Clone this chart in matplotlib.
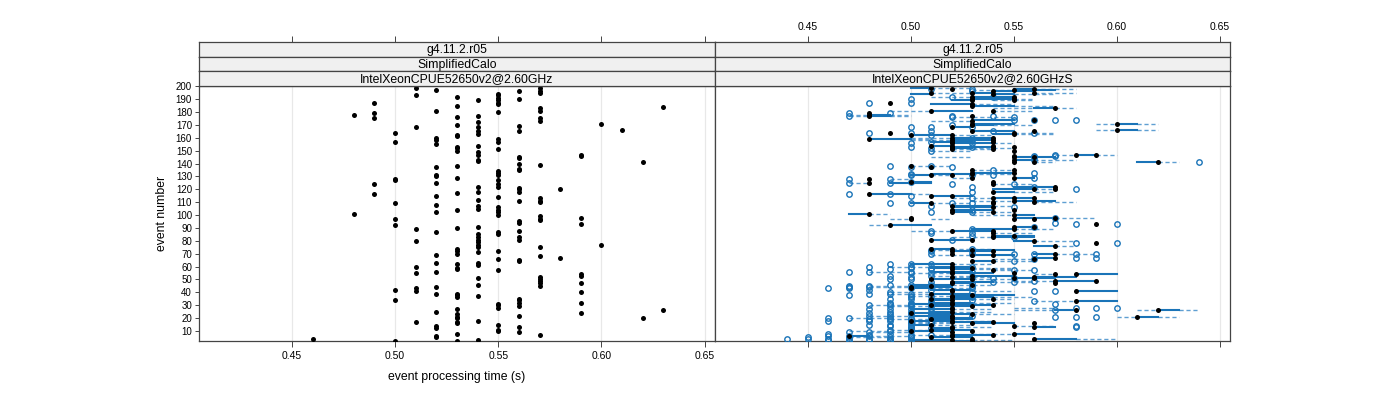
import matplotlib
matplotlib.use("Agg")
import matplotlib.pyplot as plt

plt.rcParams['font.family'] = ['Liberation Sans', 'DejaVu Sans']

# ---- left panel: one dot per event (time column -> event numbers)
left_time = [0.46, 0.48, 0.49, 0.50, 0.51, 0.52, 0.53, 0.54, 0.55, 0.56, 0.57,
             0.58, 0.59, 0.60, 0.61, 0.62, 0.63]
left_events = [
    [4],
    [178, 101],
    [187, 179, 175, 124, 116],
    [164, 157, 128, 127, 109, 97, 92, 42, 34, 2],
    [199, 193, 168, 89, 80, 60, 55, 43, 41, 17],
    [197, 181, 160, 158, 155, 137, 131, 130, 125, 115, 108, 102, 87, 69, 63, 56, 44, 39, 25, 14, 12, 6, 5],
    [192, 185, 176, 170, 162, 161, 153, 152, 150, 138, 129, 117, 104, 90, 74, 72, 70, 62, 59, 58, 39, 38, 36,
     27, 23, 21, 20, 17, 16, 8, 2],
    [189, 177, 172, 168, 165, 163, 154, 149, 147, 143, 142, 122, 118, 112, 107, 105, 91, 85, 83, 81, 79, 77,
     75, 71, 63, 61, 51, 46, 37, 18, 3],
    [194, 193, 191, 189, 187, 186, 180, 159, 157, 151, 134, 133, 131, 127, 124, 122, 114, 106, 104, 102, 100,
     87, 85, 72, 66, 57, 31, 30, 28, 15, 11, 10],
    [196, 190, 169, 165, 145, 144, 140, 136, 135, 121, 120, 118, 111, 95, 94, 88, 83, 81, 65, 64, 35, 34, 32,
     29, 22, 13, 9],
    [199, 196, 195, 183, 181, 175, 173, 139, 113, 111, 110, 99, 97, 96, 75, 68, 52, 50, 49, 47, 45, 7],
    [120, 67],
    [147, 146, 98, 93, 54, 53, 47, 40, 32, 24],
    [171, 77],
    [166],
    [141, 20],
    [184, 26],
]

# ---- right panel: per event row -> black dots, open circles, solid and dashed ranges
right_evt = [198, 197, 195, 194, 192, 190, 189, 187, 186, 183, 181, 179, 178, 177, 176, 174, 173, 171,
             168, 166, 165, 164, 162, 160, 159, 157, 156, 154, 153, 151, 150, 147, 146, 145, 141, 138,
             137, 135, 133, 131, 129, 128, 126, 125, 124, 122, 120, 116, 115, 113, 110, 109, 106, 104,
             102, 101, 100, 98, 97, 94, 93, 92, 91, 88, 86, 84, 81, 80, 78, 76, 74, 72, 70, 69, 67, 66,
             64, 62, 60, 58, 57, 56, 54, 53, 51, 49, 47, 45, 44, 43, 42, 41, 40, 38, 36, 34, 33, 31, 29,
             28, 27, 26, 25, 24, 22, 21, 20, 18, 16, 14, 12, 10, 9, 8, 6, 4, 3,
             59, 55, 52, 50, 48, 46, 39, 37, 35, 32, 30, 23, 19, 17, 15, 13, 11, 7, 5, 2,
             199, 196, 185, 170, 163, 158, 152, 143, 132, 118, 111, 107, 89, 83, 73]
right_black = [[.52, .56], [.55], [.51, .53, .56], [.54], [.53, .55], [.53, .55], [.53, .55], [.49], [.53],
               [.57], [.51, .54], [.48], [.48], [.48, .53], [], [.56], [.53], [.60, .53],
               [.52], [.60], [.53, .56], [.49, .55], [.50, .52], [.52, .54], [.48], [.52, .54], [.52],
               [.51, .52, .54], [.52, .54, .55], [.52, .54], [.55], [.58, .59], [.55], [.55, .56],
               [.62, .55, .56], [.50],
               [.51], [.53, .55], [.53, .55], [.51, .52], [.53, .55], [.48], [.50, .54], [.48], [.54],
               [.57], [.56, .57], [.48], [.51, .52], [.54, .55, .56], [.54, .56], [.51, .54], [.54],
               [.52, .55],
               [.52, .54], [.48], [.55], [.50, .57], [.50, .55, .56], [], [.59], [.49], [.55, .56],
               [.52, .54], [.54], [.54, .55], [.51, .53], [.56], [.59], [.57], [.51, .52], [.52, .54],
               [.52, .57], [.53, .54], [.57], [.56],
               [.53, .54], [.52], [.52], [.52], [.54], [.52], [.57, .58], [.53], [.55, .56], [.57, .59],
               [.52, .57], [.51], [.50], [.50], [.52], [.52, .58], [], [.53], [.52], [.52], [.58], [.52],
               [.53],
               [.52], [.52], [.62, .58], [.52], [.50], [.52], [.61], [.52], [.50, .52], [.53, .56], [.55],
               [.52], [.50, .53], [.52], [.55], [.47, .52], [.53, .56], [.52],
               [.53], [.52, .55], [.52, .56], [.51, .53], [.52], [.53], [.51], [.52], [.51, .54], [.52],
               [.51, .54], [.53], [.51], [.52, .54], [.51], [.52, .56], [.51], [.52, .54], [.51], [.53],
               [.51], [.54], [.53], [.53], [.55], [.52, .54], [.52], [.55], [.53], [.54], [.55], [.52],
               [.55], [.54], [.53]]
right_circ = [[.51, .53], [], [], [], [.52, .54], [.50], [], [.48, .50], [],
              [], [], [.47, .49], [], [.47, .52, .54], [.52, .55], [.55, .56, .57, .58], [], [],
              [.50, .51, .53], [], [.51, .54], [.48, .50, .56], [.51], [.53], [], [.51], [.50, .53],
              [], [.50, .53], [], [.51], [.57], [.56, .57], [.56],
              [.64], [.49, .51],
              [.50, .52], [.54], [.56], [.50, .53, .54], [.56], [.47, .49], [.50], [.47, .49], [.52, .55],
              [.53, .56], [.58], [.47, .49], [.50], [.53], [], [.49, .50, .52, .53], [.55],
              [.53],
              [.51, .53], [], [], [.57], [], [.57], [.58, .60], [], [.56],
              [.51], [.51, .53], [.53], [.52], [], [.58, .60], [], [.53], [.51, .53],
              [.51, .53, .55, .56, .58, .59], [], [.58, .59], [.56],
              [.55], [.49, .50, .51], [.48, .50, .53], [.49, .51], [.55, .56], [.47, .48, .50, .53], [],
              [.49, .51], [.54, .55], [.56],
              [.53], [.47, .48, .51, .53], [.47, .48], [.46, .47, .50, .53], [.48, .51], [.56, .57],
              [.49, .53], [.47], [.50, .53], [.51, .53], [.56], [.49, .50, .51, .57],
              [.49, .50, .51],
              [.58, .59, .60], [.48, .49, .50, .51], [.57], [.49, .50, .51], [.48, .50],
              [.48, .49, .51, .53], [.57, .58, .59], [.46, .47, .49, .50, .51], [.46, .48, .49, .50],
              [.50, .51], [.49, .58],
              [.50, .51], [.49, .50], [.47, .48], [.46, .49], [.46, .47, .48, .50],
              [.44, .45, .46, .47, .48, .49, .50], [.46, .48, .49],
              [.50, .51], [.50, .51], [.50, .53], [.49, .50], [.51, .54, .55], [.49, .50, .51],
              [.48, .49, .50], [.50, .51, .53], [.49, .50], [.49, .50, .51], [.48, .50], [.49, .50, .51],
              [.48, .49, .50], [.50, .51], [.48, .49, .50], [.50, .58], [.49, .50], [.48, .50, .51],
              [.45, .47, .49, .50], [.47, .49, .50],
              [], [.53], [], [.52], [], [.53], [.51], [.56], [.50], [.53], [], [.51], [.53], [.55], [.51]]
right_solid = [[(.55, .56)], [(.56, .57)], [(.53, .54)], [(.54, .55), (.50, .51)], [(.53, .55)],
               [(.53, .55)], [(.52, .53)], [], [(.51, .53)],
               [(.56, .57)], [(.51, .53)], [], [(.48, .49)], [(.48, .49)], [], [(.53, .55)], [],
               [(.60, .61), (.53, .55)],
               [(.52, .53)], [(.60, .61)], [(.53, .55)], [], [(.50, .52)], [(.52, .54)], [(.48, .50)],
               [(.51, .53)], [(.52, .54)],
               [(.51, .52)], [(.52, .54)], [], [], [(.58, .59)], [], [(.55, .57)],
               [(.61, .62)], [],
               [], [], [(.53, .55)], [(.50, .51)], [(.55, .56)], [], [(.50, .51)], [(.49, .51)], [],
               [(.55, .57)], [(.54, .56)], [(.48, .50)], [(.51, .53)], [(.54, .56)], [], [(.50, .51)],
               [(.52, .54)],
               [(.52, .54)],
               [(.52, .53)], [(.47, .48)], [(.55, .56)], [(.55, .57)], [], [], [], [(.49, .51)],
               [(.55, .56)],
               [(.52, .54)], [], [(.54, .56)], [(.51, .53)], [(.55, .56)], [], [(.56, .57)],
               [(.51, .52)], [(.52, .54)],
               [(.56, .57)], [(.53, .55)], [(.56, .57)], [],
               [(.53, .54)], [(.50, .52)], [(.51, .53)], [(.52, .53)], [], [(.51, .53)], [(.58, .60)],
               [(.53, .55)], [(.55, .57)], [(.57, .59)],
               [(.52, .53)], [], [(.50, .52)], [(.50, .51)], [(.51, .53)], [(.58, .60)], [],
               [(.53, .55)], [(.52, .54)], [(.51, .52)], [(.58, .60)], [(.50, .52)], [(.51, .53)],
               [], [(.50, .52)], [(.62, .63), (.57, .58)], [(.51, .52)], [(.50, .52)], [(.50, .52)],
               [(.61, .62)], [(.51, .53)], [(.50, .52)], [(.53, .55)], [],
               [(.51, .52)], [(.50, .52)], [], [(.55, .56)], [(.47, .48)], [(.56, .58)], [(.50, .52)],
               [(.51, .53)], [(.52, .54)], [(.56, .58)], [(.51, .53)], [(.52, .54)], [(.50, .52)],
               [(.51, .53)], [(.52, .54)], [(.51, .53)], [(.51, .53)], [(.52, .54)], [(.51, .53)],
               [(.51, .53)], [(.52, .54)], [(.50, .51)], [(.56, .57)], [(.51, .53)], [(.52, .54)],
               [(.51, .53)], [(.51, .53)],
               [(.50, .51)], [(.54, .56)], [(.53, .55)], [(.53, .54)], [(.54, .55)], [(.52, .54)],
               [(.52, .53)], [(.55, .56)], [(.51, .53)], [(.54, .55)], [(.55, .57)], [(.52, .54)],
               [(.53, .55)], [(.54, .56)], [(.53, .55)]]
right_dash = [[(.56, .58)], [(.53, .55)], [(.56, .58), (.51, .53)], [(.55, .57)], [(.51, .53)],
              [(.55, .56)], [(.54, .56)], [], [(.53, .55)],
              [(.57, .58), (.54, .56)], [(.49, .51), (.54, .56)], [], [(.47, .48), (.49, .50)],
              [(.47, .48), (.49, .50)], [(.52, .55)], [], [(.51, .53)], [(.59, .60), (.61, .62)],
              [], [(.59, .60), (.61, .62)], [], [(.55, .57)], [(.52, .54)], [(.50, .52)], [(.50, .51)],
              [], [(.54, .55)],
              [], [], [(.52, .54)], [(.51, .53)], [(.57, .58), (.59, .60)], [], [(.51, .53)],
              [(.62, .63), (.56, .57)], [(.50, .52)],
              [], [(.53, .55)], [], [(.51, .52)], [(.52, .53)], [(.49, .50)], [], [(.47, .48)],
              [(.54, .56)], [], [(.56, .57)], [(.50, .51)], [], [(.52, .54)], [(.56, .58)],
              [(.51, .53)], [],
              [],
              [(.53, .55)], [(.48, .49)], [(.53, .55)], [(.57, .59)], [(.49, .50), (.51, .52)], [], [],
              [(.48, .49)], [],
              [(.50, .52)], [(.54, .56)], [], [], [(.56, .58)], [], [(.57, .58)], [(.52, .54)], [],
              [(.57, .59)], [(.51, .53)], [], [(.54, .56)],
              [(.54, .56)], [(.52, .54)], [(.49, .51)], [(.53, .55)], [(.54, .56)], [(.48, .50)],
              [(.56, .57)], [(.51, .53)], [], [(.55, .57)],
              [], [(.48, .50)], [(.48, .50)], [(.51, .53)], [], [(.53, .55)], [(.49, .51)], [],
              [(.54, .56)], [], [(.56, .58)], [(.52, .54)], [(.49, .51)],
              [(.55, .57)], [(.52, .54)], [(.61, .62), (.63, .64), (.55, .57)], [(.52, .54)], [],
              [(.48, .50)], [(.60, .61), (.62, .63)], [(.47, .49)], [(.52, .54)], [(.50, .52)],
              [(.55, .57)],
              [], [(.47, .49)], [(.48, .50)], [(.53, .55)], [(.48, .50)], [(.58, .60)], [(.52, .55)],
              [(.53, .55)], [(.50, .52)], [(.52, .54)], [(.53, .55)], [(.54, .56)], [(.52, .54)],
              [(.49, .51)], [(.50, .52)], [(.53, .55)], [(.53, .55)], [(.48, .50)], [(.53, .55)],
              [(.49, .51)], [(.50, .52)], [(.51, .53)], [(.52, .54)], [(.49, .51)], [(.50, .52)],
              [(.47, .49)], [(.53, .55)],
              [(.51, .53)], [], [(.55, .57)], [(.54, .56)], [(.55, .57)], [(.50, .52)], [(.53, .55)],
              [(.56, .58)], [(.53, .55)], [(.55, .57)], [(.53, .55)], [(.54, .55)], [(.55, .57)],
              [(.52, .54)], [(.51, .53)]]

strip_left = ["g4.11.2.r05", "SimplifiedCalo", "IntelXeonCPUE52650v2@2.60GHz"]
strip_right = ["g4.11.2.r05", "SimplifiedCalo", "IntelXeonCPUE52650v2@2.60GHzS"]
xticks = [0.45, 0.50, 0.55, 0.60, 0.65]
xticklabels = ["0.45", "0.50", "0.55", "0.60", "0.65"]
yticks = list(range(10, 201, 10))

W, H = 1400, 400
BLUE = '#1a74b8'
LIGHT = '#5f9fd2'


def box(x0, y0, x1, y1):
    return [x0 / W, 1 - y1 / H, (x1 - x0) / W, (y1 - y0) / H]


fig = plt.figure(figsize=(14, 4), dpi=100)
axL = fig.add_axes(box(199, 86, 715, 341))
axR = fig.add_axes(box(715, 86, 1230, 341))

for ax in (axL, axR):
    ax.set_xlim(0.405, 0.655)
    ax.set_ylim(2.2, 200.2)
    for v in xticks:
        ax.axvline(v, color='#e8e8e8', lw=0.9, zorder=0)
    for s in ax.spines.values():
        s.set_color('#444444')
        s.set_linewidth(0.9)
    ax.set_xticks(xticks)
    ax.tick_params(axis='x', direction='out', length=4.5, width=0.7, color='#444444',
                   labelsize=7.5, pad=3)

axL.set_xticklabels(xticklabels)
axL.set_yticks(yticks)
axL.tick_params(axis='y', direction='out', length=3, width=0.7, color='#444444', labelsize=7, pad=2)
axR.set_yticks([])
axR.tick_params(axis='x', labelbottom=False)

# left panel dots
for t, evs in zip(left_time, left_events):
    axL.plot([t] * len(evs), evs, 'o', color='black', ms=3.6, mew=0, zorder=3)

# right panel
for e, blk, circ, sol, dsh in zip(right_evt, right_black, right_circ, right_solid, right_dash):
    for a, b in dsh:
        axR.plot([a, b], [e, e], color=LIGHT, lw=1.0, dashes=(3, 2), zorder=1)
    for a, b in sol:
        axR.plot([a, b], [e, e], color=BLUE, lw=1.5, zorder=2)
    if circ:
        axR.plot(circ, [e] * len(circ), 'o', mfc='none', mec=BLUE, ms=3.9, mew=1.0, zorder=3)
    if blk:
        axR.plot(blk, [e] * len(blk), 'o', color='black', ms=3.6, mew=0, zorder=4)

# strips
band = (86 - 42) / 3.0
for x0, x1, labels, top_labels in ((199, 715, strip_left, False), (715, 1230, strip_right, True)):
    for i, lab in enumerate(labels):
        y0 = 42 + i * band
        sa = fig.add_axes(box(x0, y0, x1, y0 + band))
        sa.set_facecolor('#f0f0f0')
        sa.set_xlim(0.405, 0.655)
        sa.set_yticks([])
        for s in sa.spines.values():
            s.set_color('#444444')
            s.set_linewidth(0.9)
        sa.text(0.5, 0.45, lab, transform=sa.transAxes, ha='center', va='center', fontsize=8.8)
        if i == 0:
            sa.xaxis.set_ticks_position('top')
            sa.set_xticks(xticks)
            sa.tick_params(axis='x', direction='out', length=4.5, width=0.7, color='#444444',
                           labelsize=7.5, pad=3, labeltop=top_labels, labelbottom=False)
            if top_labels:
                sa.set_xticklabels(xticklabels)
        else:
            sa.set_xticks([])

fig.text(162 / W, 1 - 213 / H, "event number", rotation=90, ha='center', va='center', fontsize=8.8)
fig.text(457 / W, 1 - 377 / H, "event processing time (s)", ha='center', va='center', fontsize=8.8)

fig.savefig("out.png", dpi=100)
